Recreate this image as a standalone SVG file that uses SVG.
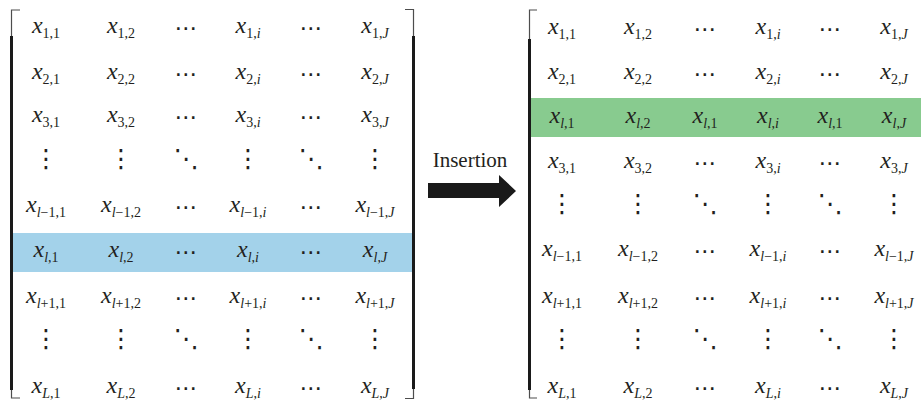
<svg xmlns="http://www.w3.org/2000/svg" width="921" height="401" viewBox="0 0 921 401">
  <style>
    .m { font-family: "Liberation Serif", "DejaVu Serif", serif; font-style: italic; font-size: 24px; fill: #231f20; text-anchor: middle; }
    .s { font-size: 14px; font-style: normal; }
    .i { font-style: italic; }
    .d { font-family: "DejaVu Sans", sans-serif; font-size: 25px; fill: #231f20; text-anchor: middle; }
    .h { font-family: "DejaVu Sans", sans-serif; font-size: 23px; fill: #231f20; text-anchor: middle; }
    .lbl { font-family: "Liberation Serif", "DejaVu Serif", serif; font-size: 21px; fill: #231f20; text-anchor: middle; }
    .thin { stroke: #4d4d4d; stroke-width: 1.2; fill: none; }
    .thick { stroke: #1a1a1a; stroke-width: 3; fill: none; }
  </style>

  <!-- Original matrix with the highlighted row l -->
  <g id="matrix-original">
    <rect id="row-l-highlight" x="12" y="233" width="401" height="39" fill="#a3d2ea"/>
    <g id="bracket-left-a">
      <path class="thin" d="M20 10 H11.5 V398 H20"/>
      <path class="thick" d="M11.5 36 V390"/>
    </g>
    <g id="bracket-right-a">
      <path class="thin" d="M405 9.5 H413.5 V398.5 H405"/>
      <path class="thick" d="M413.5 36 V389"/>
    </g>
    <g id="rows-a">
      <!-- row 1 -->
      <text class="m" x="46" y="33">x<tspan class="s" dy="5">1,1</tspan></text>
      <text class="m" x="121" y="33">x<tspan class="s" dy="5">1,2</tspan></text>
      <text class="h" x="186" y="36">⋯</text>
      <text class="m" x="248" y="33">x<tspan class="s" dy="5">1,<tspan class="i">i</tspan></tspan></text>
      <text class="h" x="311" y="36">⋯</text>
      <text class="m" x="375" y="33">x<tspan class="s" dy="5">1,<tspan class="i">J</tspan></tspan></text>
      <!-- row 2 -->
      <text class="m" x="46" y="79">x<tspan class="s" dy="5">2,1</tspan></text>
      <text class="m" x="121" y="79">x<tspan class="s" dy="5">2,2</tspan></text>
      <text class="h" x="186" y="82">⋯</text>
      <text class="m" x="248" y="79">x<tspan class="s" dy="5">2,<tspan class="i">i</tspan></tspan></text>
      <text class="h" x="311" y="82">⋯</text>
      <text class="m" x="375" y="79">x<tspan class="s" dy="5">2,<tspan class="i">J</tspan></tspan></text>
      <!-- row 3 -->
      <text class="m" x="46" y="122">x<tspan class="s" dy="5">3,1</tspan></text>
      <text class="m" x="121" y="122">x<tspan class="s" dy="5">3,2</tspan></text>
      <text class="h" x="186" y="125">⋯</text>
      <text class="m" x="248" y="122">x<tspan class="s" dy="5">3,<tspan class="i">i</tspan></tspan></text>
      <text class="h" x="311" y="125">⋯</text>
      <text class="m" x="375" y="122">x<tspan class="s" dy="5">3,<tspan class="i">J</tspan></tspan></text>
      <!-- vertical / diagonal dots -->
      <text class="d" x="46" y="167">⋮</text>
      <text class="d" x="121" y="167">⋮</text>
      <text class="d" x="186" y="167">⋱</text>
      <text class="d" x="248" y="167">⋮</text>
      <text class="d" x="311" y="167">⋱</text>
      <text class="d" x="375" y="167">⋮</text>
      <!-- row l-1 -->
      <text class="m" x="46" y="212">x<tspan class="s" dy="5"><tspan class="i">l</tspan>−1,1</tspan></text>
      <text class="m" x="121" y="212">x<tspan class="s" dy="5"><tspan class="i">l</tspan>−1,2</tspan></text>
      <text class="h" x="186" y="215">⋯</text>
      <text class="m" x="248" y="212">x<tspan class="s" dy="5"><tspan class="i">l</tspan>−1,<tspan class="i">i</tspan></tspan></text>
      <text class="h" x="311" y="215">⋯</text>
      <text class="m" x="375" y="212">x<tspan class="s" dy="5"><tspan class="i">l</tspan>−1,<tspan class="i">J</tspan></tspan></text>
      <!-- row l -->
      <text class="m" x="46" y="257">x<tspan class="s" dy="5"><tspan class="i">l</tspan>,1</tspan></text>
      <text class="m" x="121" y="257">x<tspan class="s" dy="5"><tspan class="i">l</tspan>,2</tspan></text>
      <text class="h" x="186" y="260">⋯</text>
      <text class="m" x="248" y="257">x<tspan class="s" dy="5"><tspan class="i">l</tspan>,<tspan class="i">i</tspan></tspan></text>
      <text class="h" x="311" y="260">⋯</text>
      <text class="m" x="375" y="257">x<tspan class="s" dy="5"><tspan class="i">l</tspan>,<tspan class="i">J</tspan></tspan></text>
      <!-- row l+1 -->
      <text class="m" x="46" y="303">x<tspan class="s" dy="5"><tspan class="i">l</tspan>+1,1</tspan></text>
      <text class="m" x="121" y="303">x<tspan class="s" dy="5"><tspan class="i">l</tspan>+1,2</tspan></text>
      <text class="h" x="186" y="306">⋯</text>
      <text class="m" x="248" y="303">x<tspan class="s" dy="5"><tspan class="i">l</tspan>+1,<tspan class="i">i</tspan></tspan></text>
      <text class="h" x="311" y="306">⋯</text>
      <text class="m" x="375" y="303">x<tspan class="s" dy="5"><tspan class="i">l</tspan>+1,<tspan class="i">J</tspan></tspan></text>
      <!-- vertical / diagonal dots -->
      <text class="d" x="46" y="347">⋮</text>
      <text class="d" x="121" y="347">⋮</text>
      <text class="d" x="186" y="347">⋱</text>
      <text class="d" x="248" y="347">⋮</text>
      <text class="d" x="311" y="347">⋱</text>
      <text class="d" x="375" y="347">⋮</text>
      <!-- row L -->
      <text class="m" x="46" y="393">x<tspan class="s" dy="5"><tspan class="i">L</tspan>,1</tspan></text>
      <text class="m" x="121" y="393">x<tspan class="s" dy="5"><tspan class="i">L</tspan>,2</tspan></text>
      <text class="h" x="186" y="396">⋯</text>
      <text class="m" x="248" y="393">x<tspan class="s" dy="5"><tspan class="i">L</tspan>,<tspan class="i">i</tspan></tspan></text>
      <text class="h" x="311" y="396">⋯</text>
      <text class="m" x="375" y="393">x<tspan class="s" dy="5"><tspan class="i">L</tspan>,<tspan class="i">J</tspan></tspan></text>
    </g>
  </g>

  <!-- Insertion step -->
  <g id="connectors">
    <text class="lbl" x="470" y="167">Insertion</text>
    <polygon points="428,183 499,183 499,175 516,191 499,207 499,198 428,198" fill="#1a1a1a"/>
  </g>

  <!-- Matrix after row l is moved to position 3 -->
  <g id="matrix-inserted">
    <rect id="row-l-inserted" x="531" y="98" width="390" height="39" fill="#88cb8f"/>
    <g id="bracket-left-b">
      <path class="thin" d="M537 10 H529.5 V398 H537"/>
      <path class="thick" d="M529.5 39 V390"/>
    </g>
    <g id="rows-b">
      <!-- row 1 -->
      <text class="m" x="562" y="34">x<tspan class="s" dy="5">1,1</tspan></text>
      <text class="m" x="638" y="34">x<tspan class="s" dy="5">1,2</tspan></text>
      <text class="h" x="705" y="37">⋯</text>
      <text class="m" x="768" y="34">x<tspan class="s" dy="5">1,<tspan class="i">i</tspan></tspan></text>
      <text class="h" x="830" y="37">⋯</text>
      <text class="m" x="894" y="34">x<tspan class="s" dy="5">1,<tspan class="i">J</tspan></tspan></text>
      <!-- row 2 -->
      <text class="m" x="562" y="79">x<tspan class="s" dy="5">2,1</tspan></text>
      <text class="m" x="638" y="79">x<tspan class="s" dy="5">2,2</tspan></text>
      <text class="h" x="705" y="82">⋯</text>
      <text class="m" x="768" y="79">x<tspan class="s" dy="5">2,<tspan class="i">i</tspan></tspan></text>
      <text class="h" x="830" y="82">⋯</text>
      <text class="m" x="894" y="79">x<tspan class="s" dy="5">2,<tspan class="i">J</tspan></tspan></text>
      <!-- inserted row l -->
      <text class="m" x="562" y="123">x<tspan class="s" dy="5"><tspan class="i">l</tspan>,1</tspan></text>
      <text class="m" x="638" y="123">x<tspan class="s" dy="5"><tspan class="i">l</tspan>,2</tspan></text>
      <text class="m" x="705" y="123">x<tspan class="s" dy="5"><tspan class="i">l</tspan>,1</tspan></text>
      <text class="m" x="768" y="123">x<tspan class="s" dy="5"><tspan class="i">l</tspan>,<tspan class="i">i</tspan></tspan></text>
      <text class="m" x="830" y="123">x<tspan class="s" dy="5"><tspan class="i">l</tspan>,1</tspan></text>
      <text class="m" x="894" y="123">x<tspan class="s" dy="5"><tspan class="i">l</tspan>,<tspan class="i">J</tspan></tspan></text>
      <!-- row 3 -->
      <text class="m" x="562" y="168">x<tspan class="s" dy="5">3,1</tspan></text>
      <text class="m" x="638" y="168">x<tspan class="s" dy="5">3,2</tspan></text>
      <text class="h" x="705" y="171">⋯</text>
      <text class="m" x="768" y="168">x<tspan class="s" dy="5">3,<tspan class="i">i</tspan></tspan></text>
      <text class="h" x="830" y="171">⋯</text>
      <text class="m" x="894" y="168">x<tspan class="s" dy="5">3,<tspan class="i">J</tspan></tspan></text>
      <!-- vertical / diagonal dots -->
      <text class="d" x="562" y="212">⋮</text>
      <text class="d" x="638" y="212">⋮</text>
      <text class="d" x="705" y="212">⋱</text>
      <text class="d" x="768" y="212">⋮</text>
      <text class="d" x="830" y="212">⋱</text>
      <text class="d" x="894" y="212">⋮</text>
      <!-- row l-1 -->
      <text class="m" x="562" y="256">x<tspan class="s" dy="5"><tspan class="i">l</tspan>−1,1</tspan></text>
      <text class="m" x="638" y="256">x<tspan class="s" dy="5"><tspan class="i">l</tspan>−1,2</tspan></text>
      <text class="h" x="705" y="259">⋯</text>
      <text class="m" x="768" y="256">x<tspan class="s" dy="5"><tspan class="i">l</tspan>−1,<tspan class="i">i</tspan></tspan></text>
      <text class="h" x="830" y="259">⋯</text>
      <text class="m" x="894" y="256">x<tspan class="s" dy="5"><tspan class="i">l</tspan>−1,<tspan class="i">J</tspan></tspan></text>
      <!-- row l+1 -->
      <text class="m" x="562" y="303">x<tspan class="s" dy="5"><tspan class="i">l</tspan>+1,1</tspan></text>
      <text class="m" x="638" y="303">x<tspan class="s" dy="5"><tspan class="i">l</tspan>+1,2</tspan></text>
      <text class="h" x="705" y="306">⋯</text>
      <text class="m" x="768" y="303">x<tspan class="s" dy="5"><tspan class="i">l</tspan>+1,<tspan class="i">i</tspan></tspan></text>
      <text class="h" x="830" y="306">⋯</text>
      <text class="m" x="894" y="303">x<tspan class="s" dy="5"><tspan class="i">l</tspan>+1,<tspan class="i">J</tspan></tspan></text>
      <!-- vertical / diagonal dots -->
      <text class="d" x="562" y="347">⋮</text>
      <text class="d" x="638" y="347">⋮</text>
      <text class="d" x="705" y="347">⋱</text>
      <text class="d" x="768" y="347">⋮</text>
      <text class="d" x="830" y="347">⋱</text>
      <text class="d" x="894" y="347">⋮</text>
      <!-- row L -->
      <text class="m" x="562" y="393">x<tspan class="s" dy="5"><tspan class="i">L</tspan>,1</tspan></text>
      <text class="m" x="638" y="393">x<tspan class="s" dy="5"><tspan class="i">L</tspan>,2</tspan></text>
      <text class="h" x="705" y="396">⋯</text>
      <text class="m" x="768" y="393">x<tspan class="s" dy="5"><tspan class="i">L</tspan>,<tspan class="i">i</tspan></tspan></text>
      <text class="h" x="830" y="396">⋯</text>
      <text class="m" x="894" y="393">x<tspan class="s" dy="5"><tspan class="i">L</tspan>,<tspan class="i">J</tspan></tspan></text>
    </g>
  </g>
</svg>
